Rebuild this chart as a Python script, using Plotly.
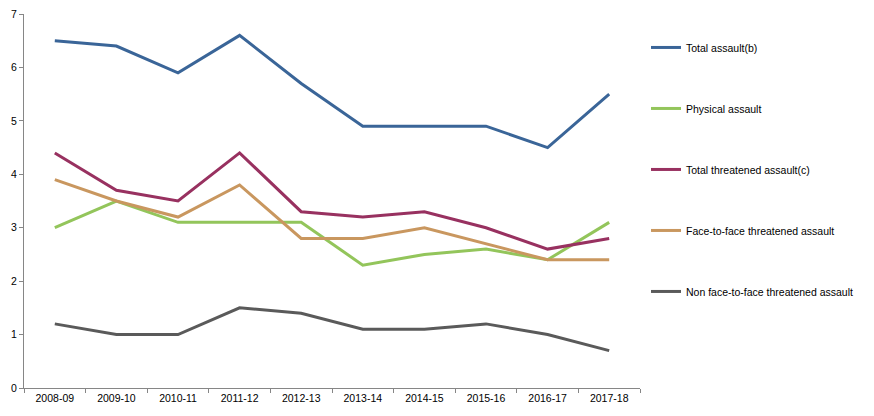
import plotly.graph_objects as go

categories = ["2008-09", "2009-10", "2010-11", "2011-12", "2012-13",
              "2013-14", "2014-15", "2015-16", "2016-17", "2017-18"]
total_assault = [6.5, 6.4, 5.9, 6.6, 5.7, 4.9, 4.9, 4.9, 4.5, 5.5]
physical_assault = [3.0, 3.5, 3.1, 3.1, 3.1, 2.3, 2.5, 2.6, 2.4, 3.1]
total_threatened = [4.4, 3.7, 3.5, 4.4, 3.3, 3.2, 3.3, 3.0, 2.6, 2.8]
face_to_face = [3.9, 3.5, 3.2, 3.8, 2.8, 2.8, 3.0, 2.7, 2.4, 2.4]
non_face_to_face = [1.2, 1.0, 1.0, 1.5, 1.4, 1.1, 1.1, 1.2, 1.0, 0.7]

series = [
    ("Total assault(b)", total_assault, "#3A6598"),
    ("Physical assault", physical_assault, "#93C55B"),
    ("Total threatened assault(c)", total_threatened, "#983160"),
    ("Face-to-face threatened assault", face_to_face, "#C9975F"),
    ("Non face-to-face threatened assault", non_face_to_face, "#5A5A5A"),
]

fig = go.Figure()
for i, (name, vals, color) in enumerate(series):
    fig.add_trace(go.Scatter(
        x=categories, y=vals, name=name, mode="lines",
        line=dict(color=color, width=3),
        legendgroup=f"g{i}",
    ))

fig.update_layout(
    width=874, height=416,
    margin=dict(l=16, r=242, t=6, b=36, autoexpand=False),
    paper_bgcolor="white", plot_bgcolor="white",
    font=dict(family="Liberation Sans, Arial, sans-serif", size=10.5, color="#000000"),
    showlegend=True,
    legend=dict(
        xref="container", yref="container",
        x=0.73, y=0.94, xanchor="left", yanchor="top",
        tracegroupgap=42, font=dict(size=10.5),
        itemwidth=30, bgcolor="rgba(0,0,0,0)",
        maxheight=1.0,
    ),
    xaxis=dict(
        type="category", showgrid=False, showline=True,
        linecolor="#868686", linewidth=1,
        ticks="outside", tickcolor="#868686", ticklen=4,
        tickson="boundaries", range=[-0.5, 9.5], automargin=False,
    ),
    yaxis=dict(
        range=[0, 7], dtick=1, showgrid=False, showline=True,
        linecolor="#868686", linewidth=1,
        ticks="outside", tickcolor="#868686", ticklen=4,
        zeroline=False, automargin=False, ticklabeloverflow="allow",
    ),
)

fig.write_html("out.html")
